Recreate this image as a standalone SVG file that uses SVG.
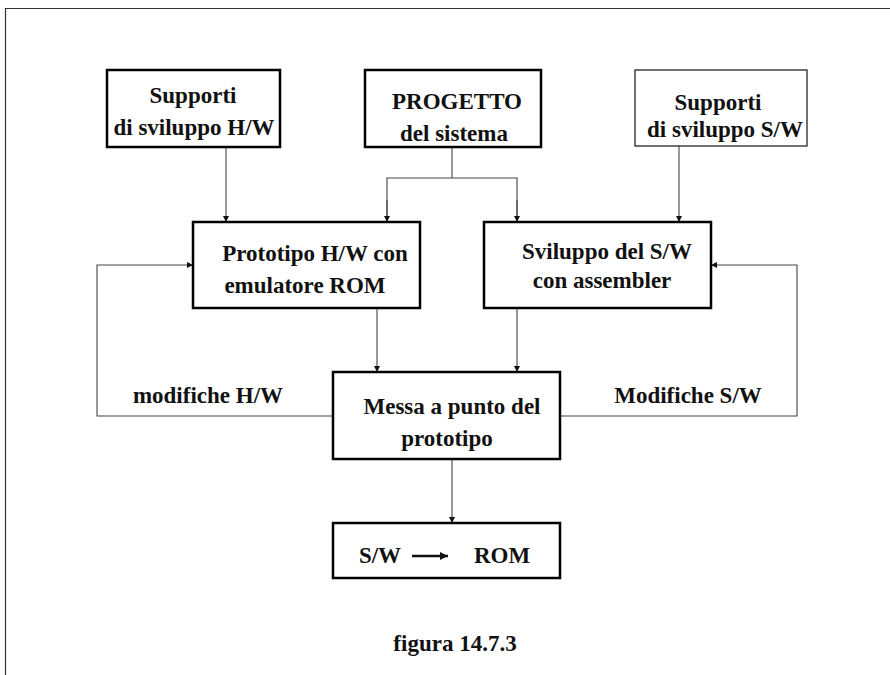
<svg xmlns="http://www.w3.org/2000/svg" width="890" height="675" viewBox="0 0 890 675">
  <defs>
    <style>
      .box { fill: #fff; stroke: #000; stroke-width: 2.5; }
      .box-thin { fill: #fff; stroke: #111; stroke-width: 1.2; }
      .wire { fill: none; stroke: #444; stroke-width: 1.1; }
      .lbl { font-family: "Liberation Serif", "Times New Roman", serif; font-weight: bold; font-size: 23px; fill: #111; text-anchor: middle; }
      .frame { fill: none; stroke: #333; stroke-width: 1.2; }
    </style>
    <marker id="arr" viewBox="0 0 10 10" refX="10" refY="5" markerWidth="9" markerHeight="6" markerUnits="userSpaceOnUse" orient="auto">
      <path d="M0,0 L10,5 L0,10 z" fill="#111"/>
    </marker>
    <marker id="arr-big" viewBox="0 0 10 10" refX="10" refY="5" markerWidth="13" markerHeight="8" markerUnits="userSpaceOnUse" orient="auto">
      <path d="M0,0 L10,5 L0,10 z" fill="#111"/>
    </marker>
  </defs>
  <rect width="890" height="675" fill="#fff"/>

  <!-- page frame -->
  <path class="frame" d="M5.5,675 V8.5 H890"/>

  <!-- connectors -->
  <g id="connectors">
    <line class="wire" x1="226" y1="147" x2="226" y2="222" marker-end="url(#arr)"/>
    <path class="wire" d="M452,147 V178"/>
    <path class="wire" d="M387,222 V178 H517 V222"/>
    <line class="wire" x1="387" y1="200" x2="387" y2="222" marker-end="url(#arr)"/>
    <line class="wire" x1="517" y1="200" x2="517" y2="222" marker-end="url(#arr)"/>
    <line class="wire" x1="679" y1="146" x2="679" y2="222" marker-end="url(#arr)"/>
    <line class="wire" x1="377" y1="308" x2="377" y2="372" marker-end="url(#arr)"/>
    <line class="wire" x1="517" y1="308" x2="517" y2="372" marker-end="url(#arr)"/>
    <line class="wire" x1="452" y1="459" x2="452" y2="523" marker-end="url(#arr)"/>
    <path class="wire" d="M333,416 H97 V265 H193" marker-end="url(#arr)"/>
    <path class="wire" d="M560,416 H797 V265 H711" marker-end="url(#arr)"/>
    <text class="lbl" x="208" y="403">modifiche H/W</text>
    <text class="lbl" x="688" y="403">Modifiche S/W</text>
  </g>

  <g id="supporti-hw">
    <rect class="box" x="107" y="70" width="173" height="77"/>
    <text class="lbl" x="193" y="103">Supporti</text>
    <text class="lbl" x="194" y="135">di sviluppo H/W</text>
  </g>

  <g id="progetto">
    <rect class="box" x="365" y="70" width="176" height="77"/>
    <text class="lbl" x="457" y="109">PROGETTO</text>
    <text class="lbl" x="454" y="141">del sistema</text>
  </g>

  <g id="supporti-sw">
    <rect class="box-thin" x="635" y="70" width="172" height="76"/>
    <text class="lbl" x="718" y="110">Supporti</text>
    <text class="lbl" x="725" y="137">di sviluppo S/W</text>
  </g>

  <g id="prototipo-hw">
    <rect class="box" x="193" y="222" width="227" height="86"/>
    <text class="lbl" x="315" y="261">Prototipo H/W con</text>
    <text class="lbl" x="305" y="293">emulatore ROM</text>
  </g>

  <g id="sviluppo-sw">
    <rect class="box" x="484" y="222" width="227" height="86"/>
    <text class="lbl" x="607" y="259">Sviluppo del S/W</text>
    <text class="lbl" x="602" y="288">con assembler</text>
  </g>

  <g id="messa-a-punto">
    <rect class="box" x="333" y="372" width="227" height="87"/>
    <text class="lbl" x="452" y="414">Messa a punto del</text>
    <text class="lbl" x="447" y="446">prototipo</text>
  </g>

  <g id="sw-rom">
    <rect class="box" x="333" y="523" width="227" height="55"/>
    <text class="lbl" x="380" y="563">S/W</text>
    <line x1="412" y1="556" x2="448" y2="556" stroke="#111" stroke-width="2.4" marker-end="url(#arr-big)"/>
    <text class="lbl" x="502" y="563">ROM</text>
  </g>

  <text class="lbl" x="455" y="651">figura 14.7.3</text>
</svg>
